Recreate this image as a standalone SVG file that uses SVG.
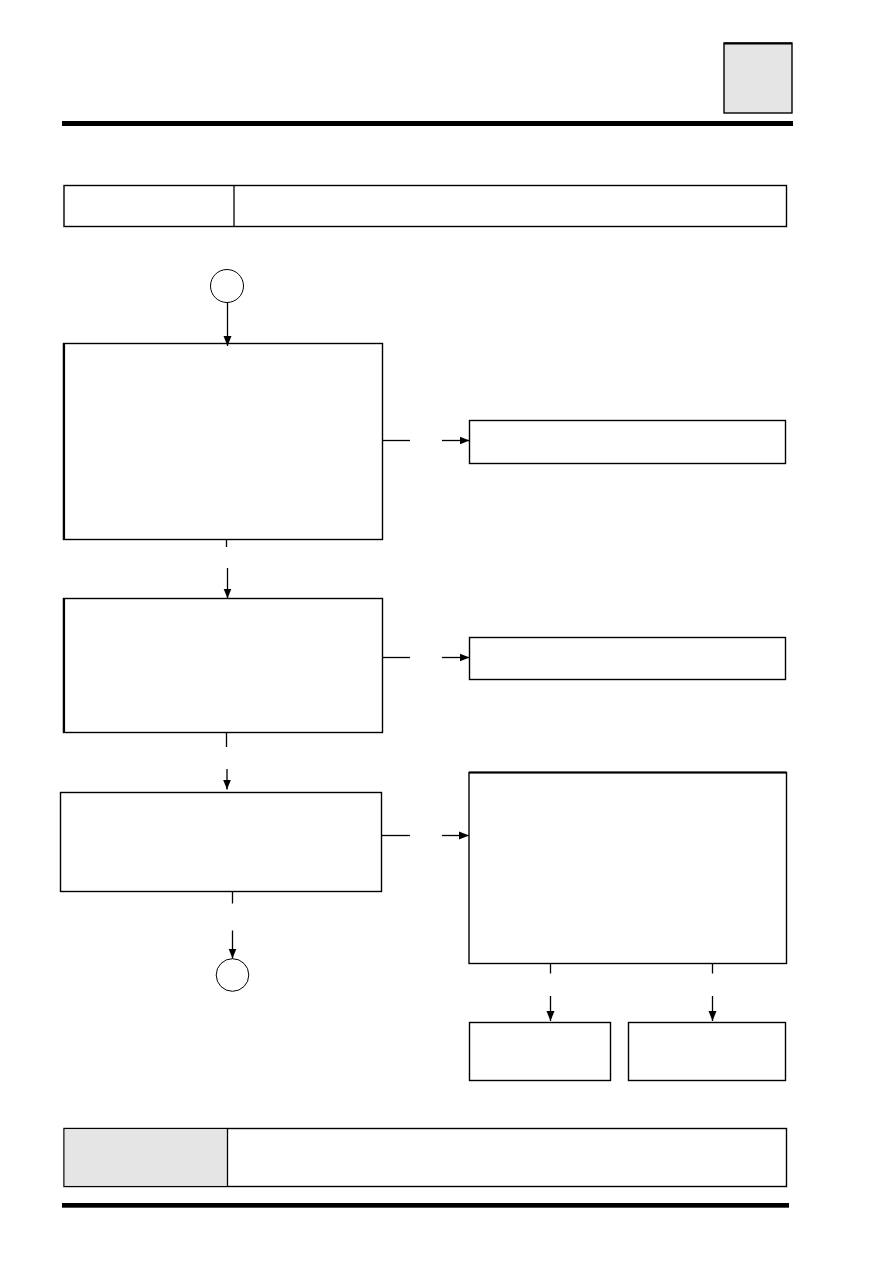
<svg xmlns="http://www.w3.org/2000/svg" width="893" height="1263" viewBox="0 0 893 1263">
<style>
.box{fill:#ffffff;stroke:#000000;stroke-width:1.4}
.grey{fill:#e5e5e5;stroke:#000000;stroke-width:1.4}
.term{fill:#ffffff;stroke:#000000;stroke-width:1}
.conn{fill:none;stroke:#000000;stroke-width:1.3}
.arr{fill:none;stroke:#000000;stroke-width:1.3;marker-end:url(#ah)}
.bar{fill:#000000}
</style>
<defs>
<marker id="ah" markerUnits="userSpaceOnUse" markerWidth="10" markerHeight="10" viewBox="0 0 10 10" refX="10" refY="5" orient="auto">
<path d="M0,1 L10,5 L0,9 Z" fill="#000000"/>
</marker>
</defs>
<rect width="893" height="1263" fill="#ffffff"/>
<g id="header">
<rect class="grey" x="724" y="43" width="68" height="70"/>
<line x1="724" y1="43.5" x2="792" y2="43.5" stroke="#000" stroke-width="2"/>
<rect class="bar" x="62" y="121" width="731" height="5"/>
</g>
<g id="top-table">
<rect class="box" x="64" y="185.5" width="722.5" height="41"/>
<line class="conn" x1="234" y1="185.5" x2="234" y2="226.5"/>
</g>
<g id="start">
<circle class="term" cx="227" cy="286" r="16.5"/>
</g>
<g id="step1">
<rect class="box" x="63.5" y="343.5" width="319" height="196"/>
<line x1="64" y1="343.5" x2="64" y2="539.5" stroke="#000" stroke-width="2.2"/>
</g>
<g id="result1">
<rect class="box" x="469.5" y="420.5" width="316" height="43"/>
</g>
<g id="step2">
<rect class="box" x="63.5" y="598.5" width="319" height="134"/>
<line x1="64" y1="598.5" x2="64" y2="732.5" stroke="#000" stroke-width="2.2"/>
</g>
<g id="result2">
<rect class="box" x="469.5" y="637.5" width="316" height="42"/>
</g>
<g id="step3">
<rect class="box" x="60.5" y="792.5" width="321" height="99"/>
</g>
<g id="end">
<circle class="term" cx="232.5" cy="975" r="16.3"/>
</g>
<g id="step4">
<rect class="box" x="469" y="772.5" width="317.5" height="191"/>
<line x1="469" y1="772.5" x2="786.5" y2="772.5" stroke="#000" stroke-width="2.2"/>
</g>
<g id="result4a">
<rect class="box" x="469.5" y="1022.5" width="141" height="58"/>
</g>
<g id="result4b">
<rect class="box" x="628.5" y="1022.5" width="157" height="58"/>
</g>
<g id="footer">
<rect class="box" x="64" y="1128.5" width="722.5" height="58"/>
<rect x="64.7" y="1129.2" width="162.6" height="56.6" fill="#e5e5e5"/>
<line class="conn" x1="227.5" y1="1128.5" x2="227.5" y2="1186.5"/>
<rect class="bar" x="62" y="1203" width="727" height="4.7"/>
</g>
<g id="connectors">
<line class="arr" x1="227.5" y1="302.5" x2="227.5" y2="346"/>
<line class="conn" x1="383" y1="440.5" x2="410" y2="440.5"/>
<line class="arr" x1="442" y1="440.5" x2="469.5" y2="440.5"/>
<line class="conn" x1="226.5" y1="540" x2="226.5" y2="547"/>
<line class="arr" x1="227.5" y1="568" x2="227.5" y2="598.5"/>
<line class="conn" x1="383" y1="657.5" x2="410" y2="657.5"/>
<line class="arr" x1="442" y1="657.5" x2="469.5" y2="657.5"/>
<line class="conn" x1="226.5" y1="733" x2="226.5" y2="747"/>
<line class="arr" x1="227" y1="769" x2="227" y2="789.5"/>
<line class="conn" x1="382" y1="835.5" x2="410" y2="835.5"/>
<line class="arr" x1="442" y1="835.5" x2="469" y2="835.5"/>
<line class="conn" x1="232.5" y1="892" x2="232.5" y2="903.5"/>
<line class="arr" x1="232.5" y1="930.5" x2="232.5" y2="958.5"/>
<line class="conn" x1="550.5" y1="964" x2="550.5" y2="973.5"/>
<line class="arr" x1="550.5" y1="996" x2="550.5" y2="1021"/>
<line class="conn" x1="712.5" y1="964" x2="712.5" y2="973.5"/>
<line class="arr" x1="712.5" y1="996" x2="712.5" y2="1021"/>
</g>
</svg>
